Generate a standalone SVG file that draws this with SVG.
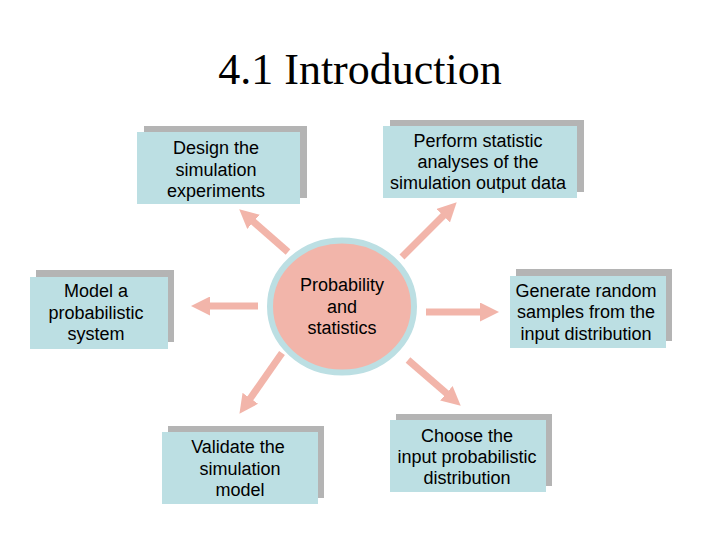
<svg xmlns="http://www.w3.org/2000/svg" width="720" height="540" viewBox="0 0 720 540">
<defs>
<style>
.sh{fill:#B4B4B4}
.bx{fill:#BCDFE3}
.t{font-family:"Liberation Sans",Arial,sans-serif;font-size:18px;fill:#000;text-anchor:middle}
.ttl{font-family:"Liberation Serif","Times New Roman",serif;font-size:44px;fill:#000;text-anchor:middle}
.ar{stroke:#F2B5AA;stroke-width:7;fill:none;marker-end:url(#ah)}
</style>
<marker id="ah" markerUnits="userSpaceOnUse" markerWidth="19" markerHeight="19" refX="6" refY="9.5" orient="auto">
<path d="M0,0 L19,9.5 L0,19 z" fill="#F2B5AA"/>
</marker>
</defs>
<rect width="720" height="540" fill="#fff"/>
<text class="ttl" x="360" y="84">4.1 Introduction</text>
<g id="connectors">
<line class="ar" x1="288" y1="252" x2="249" y2="217.9"/>
<line class="ar" x1="402" y1="257" x2="447.5" y2="211.5"/>
<line class="ar" x1="258" y1="306" x2="204" y2="306"/>
<line class="ar" x1="426" y1="312" x2="486" y2="312"/>
<line class="ar" x1="282" y1="353" x2="246.9" y2="403.2"/>
<line class="ar" x1="408" y1="360" x2="450.9" y2="397.2"/>
</g>
<g id="center">
<ellipse cx="342" cy="306.5" rx="72" ry="66" fill="#F2B5AA" stroke="#BCDFE3" stroke-width="6"/>
<text class="t" x="342" y="291">Probability</text>
<text class="t" x="342" y="313">and</text>
<text class="t" x="342" y="334">statistics</text>
</g>
<g id="design">
<rect class="sh" x="144" y="126" width="163" height="72"/>
<rect class="bx" x="137" y="132" width="163" height="72"/>
<text class="t" x="216" y="154">Design the</text>
<text class="t" x="216" y="175.5">simulation</text>
<text class="t" x="216" y="197">experiments</text>
</g>
<g id="perform">
<rect class="sh" x="390" y="120" width="194" height="72"/>
<rect class="bx" x="383" y="126" width="194" height="72"/>
<text class="t" x="478" y="147">Perform statistic</text>
<text class="t" x="478" y="168">analyses of the</text>
<text class="t" x="478" y="189">simulation output data</text>
</g>
<g id="model">
<rect class="sh" x="36" y="270" width="138" height="72"/>
<rect class="bx" x="30" y="277" width="138" height="72"/>
<text class="t" x="96" y="297">Model a</text>
<text class="t" x="96" y="319">probabilistic</text>
<text class="t" x="96" y="340">system</text>
</g>
<g id="generate">
<rect class="sh" x="516" y="269" width="156" height="72"/>
<rect class="bx" x="510" y="276" width="156" height="72"/>
<text class="t" x="586" y="297">Generate random</text>
<text class="t" x="586" y="318">samples from the</text>
<text class="t" x="586" y="340">input distribution</text>
</g>
<g id="validate">
<rect class="sh" x="168" y="426" width="156" height="72"/>
<rect class="bx" x="162" y="432" width="156" height="72"/>
<text class="t" x="238" y="453">Validate the</text>
<text class="t" x="240" y="475">simulation</text>
<text class="t" x="240" y="496">model</text>
</g>
<g id="choose">
<rect class="sh" x="396" y="414" width="156" height="72"/>
<rect class="bx" x="390" y="420" width="156" height="72"/>
<text class="t" x="467" y="442">Choose the</text>
<text class="t" x="467" y="463">input probabilistic</text>
<text class="t" x="467" y="484">distribution</text>
</g>
</svg>
